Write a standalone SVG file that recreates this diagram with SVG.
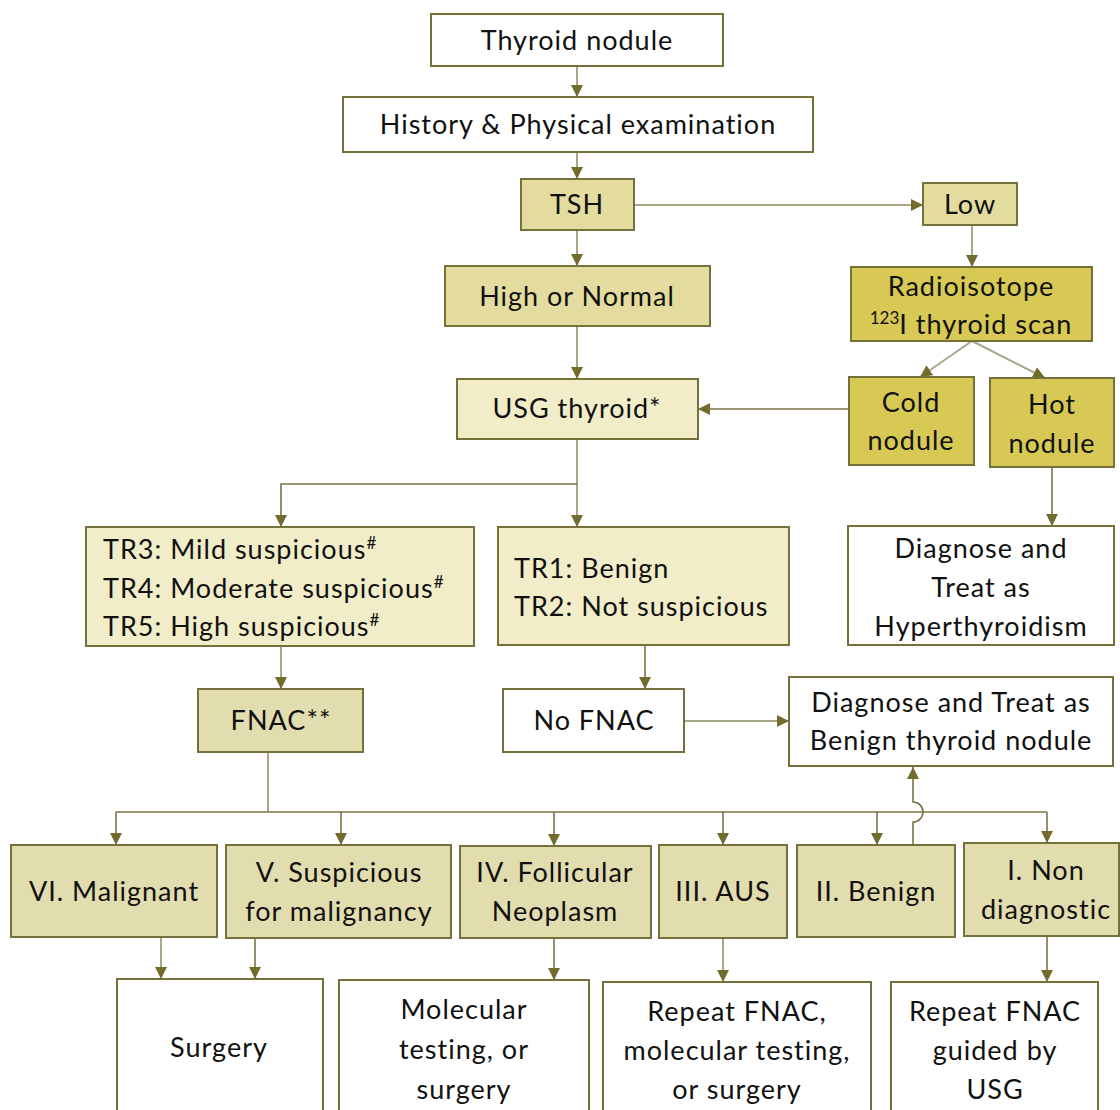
<svg xmlns="http://www.w3.org/2000/svg" width="1120" height="1110" viewBox="0 0 1120 1110">
<defs>
<marker id="ah" markerUnits="userSpaceOnUse" markerWidth="13" markerHeight="12" refX="12" refY="6" orient="auto">
<path d="M0,0 L12,6 L0,12 z" fill="#736c2e"/>
</marker>
<style>
rect{stroke:#76703a;stroke-width:2}
.w{fill:#ffffff}
.t1{fill:#e3dc9e}
.t2{fill:#d8c955}
.t3{fill:#f2edc9}
.t4{fill:#e2ddae}
text{font-family:Lato,"Liberation Sans",sans-serif;font-size:27px;letter-spacing:1px;fill:#111;text-anchor:middle}
.l{text-anchor:start}
.sup{font-size:17px;letter-spacing:0}
.lc{fill:none;stroke:#a9a68a;stroke-width:2;marker-end:url(#ah)}
.dc{fill:none;stroke:#7a7440;stroke-width:1.6;marker-end:url(#ah)}
.dn{fill:none;stroke:#7a7440;stroke-width:1.6}
.ln{fill:none;stroke:#a9a68a;stroke-width:2}
</style>
</defs>
<rect width="1120" height="1110" fill="#ffffff" style="stroke:none"/>
<g id="connectors">
<path class="lc" d="M577,66 V97"/>
<path class="lc" d="M577,152 V179"/>
<path class="lc" d="M634,205 H923"/>
<path class="lc" d="M577,230 V266"/>
<path class="lc" d="M972,225 V267"/>
<path class="lc" d="M972,341 L920,377"/>
<path class="lc" d="M972,341 L1045,378"/>
<path class="lc" d="M577,326 V379"/>
<path class="dc" d="M849,409 H698"/>
<path class="lc" d="M577,439 V527"/>
<path class="dc" d="M577,484 H281 V527"/>
<path class="lc" d="M281,646 V689"/>
<path class="dc" d="M645,645 V689"/>
<path class="lc" d="M684,721 H789"/>
<path class="dc" d="M1052,467 V526"/>
<path class="ln" d="M268,752 V812"/>
<path class="dn" d="M116,812 H1047"/>
<path class="dc" d="M116,812 V845"/>
<path class="dc" d="M341,812 V845"/>
<path class="dc" d="M554,812 V846"/>
<path class="dc" d="M723,812 V845"/>
<path class="dc" d="M877,812 V845"/>
<path class="dc" d="M1047,812 V843"/>
<path class="dc" d="M913,845 V822 A10,10 0 0 0 913,802 V767"/>
<path class="lc" d="M161,937 V979"/>
<path class="dc" d="M255,938 V979"/>
<path class="dc" d="M554,938 V980"/>
<path class="lc" d="M723,938 V982"/>
<path class="dc" d="M1047,936 V982"/>
</g>
<g id="n-thyroid"><rect class="w" x="431" y="14" width="292" height="52"/><text x="577" y="50">Thyroid nodule</text></g>
<g id="n-history"><rect class="w" x="343" y="97" width="470" height="55"/><text x="578" y="134">History &amp; Physical examination</text></g>
<g id="n-tsh"><rect class="t1" x="521" y="179" width="113" height="51"/><text x="577" y="214">TSH</text></g>
<g id="n-low"><rect class="t1" x="923" y="183" width="94" height="42"/><text x="970" y="214">Low</text></g>
<g id="n-high"><rect class="t1" x="445" y="266" width="265" height="60"/><text x="577" y="306">High or Normal</text></g>
<g id="n-radio"><rect class="t2" x="851" y="267" width="241" height="74"/><text x="971" y="296">Radioisotope</text><text x="971" y="334"><tspan class="sup" dy="-10">123</tspan><tspan dy="10">I thyroid scan</tspan></text></g>
<g id="n-cold"><rect class="t2" x="849" y="377" width="125" height="88"/><text x="911" y="412">Cold</text><text x="911" y="450">nodule</text></g>
<g id="n-hot"><rect class="t2" x="990" y="378" width="124" height="89"/><text x="1052" y="414">Hot</text><text x="1052" y="453">nodule</text></g>
<g id="n-usg"><rect class="t3" x="457" y="379" width="241" height="60"/><text x="577" y="418">USG thyroid*</text></g>
<g id="n-tr3"><rect class="t3" x="86" y="527" width="388" height="119"/>
<text class="l" x="103" y="559">TR3: Mild suspicious<tspan class="sup" dy="-10">#</tspan></text>
<text class="l" x="103" y="598">TR4: Moderate suspicious<tspan class="sup" dy="-10">#</tspan></text>
<text class="l" x="103" y="636">TR5: High suspicious<tspan class="sup" dy="-10">#</tspan></text></g>
<g id="n-tr1"><rect class="t3" x="498" y="527" width="291" height="118"/>
<text class="l" x="514" y="578">TR1: Benign</text>
<text class="l" x="514" y="616">TR2: Not suspicious</text></g>
<g id="n-hyper"><rect class="w" x="848" y="526" width="266" height="119"/><text x="981" y="558">Diagnose and</text><text x="981" y="597">Treat as</text><text x="981" y="636">Hyperthyroidism</text></g>
<g id="n-fnac"><rect class="t4" x="198" y="689" width="165" height="63"/><text x="281" y="730">FNAC**</text></g>
<g id="n-nofnac"><rect class="w" x="503" y="689" width="181" height="63"/><text x="594" y="730">No FNAC</text></g>
<g id="n-benigndx"><rect class="w" x="789" y="677" width="324" height="89"/><text x="951" y="712">Diagnose and Treat as</text><text x="951" y="750">Benign thyroid nodule</text></g>
<g id="n-vi"><rect class="t4" x="11" y="845" width="206" height="92"/><text x="114" y="901">VI. Malignant</text></g>
<g id="n-v"><rect class="t4" x="226" y="845" width="225" height="93"/><text x="339" y="882">V. Suspicious</text><text x="339" y="921">for malignancy</text></g>
<g id="n-iv"><rect class="t4" x="460" y="846" width="191" height="92"/><text x="555" y="882">IV. Follicular</text><text x="555" y="921">Neoplasm</text></g>
<g id="n-iii"><rect class="t4" x="659" y="845" width="128" height="93"/><text x="723" y="901">III. AUS</text></g>
<g id="n-ii"><rect class="t4" x="797" y="845" width="158" height="92"/><text x="876" y="901">II. Benign</text></g>
<g id="n-i"><rect class="t4" x="964" y="843" width="155" height="93"/><text x="1046" y="880">I. Non</text><text x="1046" y="919">diagnostic</text></g>
<g id="n-surgery"><rect class="w" x="117" y="979" width="206" height="150"/><text x="219" y="1057">Surgery</text></g>
<g id="n-molecular"><rect class="w" x="339" y="980" width="250" height="150"/><text x="464" y="1019">Molecular</text><text x="464" y="1059">testing, or</text><text x="464" y="1099">surgery</text></g>
<g id="n-repeat"><rect class="w" x="603" y="982" width="268" height="150"/><text x="737" y="1021">Repeat FNAC,</text><text x="737" y="1060">molecular testing,</text><text x="737" y="1099">or surgery</text></g>
<g id="n-repeatusg"><rect class="w" x="891" y="982" width="207" height="150"/><text x="995" y="1021">Repeat FNAC</text><text x="995" y="1060">guided by</text><text x="995" y="1099">USG</text></g>
</svg>
